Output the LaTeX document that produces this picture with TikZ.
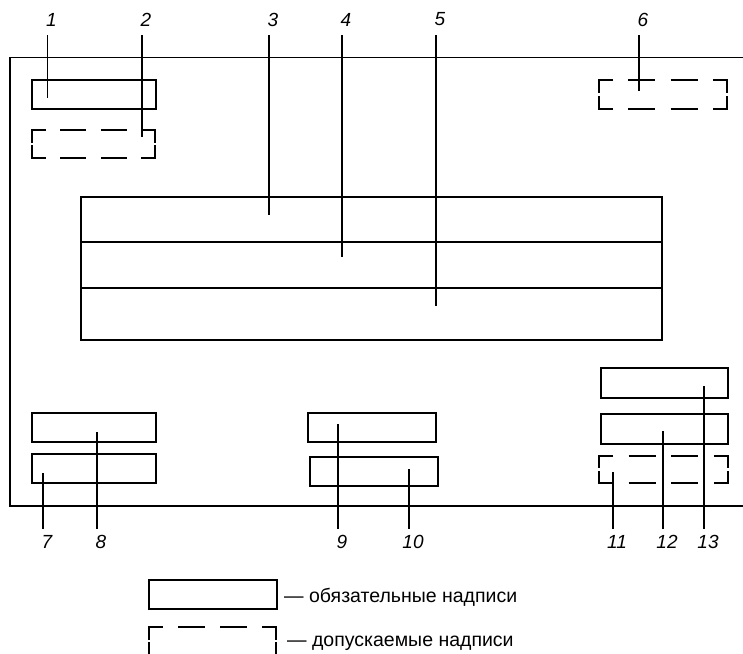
\documentclass[tikz,border=0pt]{standalone}
\usepackage{fontspec}
\setmainfont{Liberation Sans}
\usetikzlibrary{calc}
\newcommand\optbox[1]{%
  \draw[optline] ($(#1.north west)!0.11!(#1.north east)$) -- (#1.north west) -- ($(#1.north west)!0.46!(#1.south west)$);
  \draw[optline] ($(#1.north east)!0.11!(#1.north west)$) -- (#1.north east) -- ($(#1.north east)!0.46!(#1.south east)$);
  \draw[optline] ($(#1.south west)!0.11!(#1.south east)$) -- (#1.south west) -- ($(#1.south west)!0.46!(#1.north west)$);
  \draw[optline] ($(#1.south east)!0.11!(#1.south west)$) -- (#1.south east) -- ($(#1.south east)!0.46!(#1.north east)$);
  \foreach \a/\b in {0.23/0.44,0.56/0.77}{
    \draw[optline] ($(#1.north west)!\a!(#1.north east)$) -- ($(#1.north west)!\b!(#1.north east)$);
    \draw[optline] ($(#1.south west)!\a!(#1.south east)$) -- ($(#1.south west)!\b!(#1.south east)$);
  }%
}
\begin{document}
\begin{tikzpicture}[x=1pt,y=-1pt,
  frame/.style={line width=1.2pt},
  box/.style={draw, line width=1.2pt, inner sep=0pt, outer sep=0pt, anchor=north west},
  optarea/.style={inner sep=0pt, outer sep=0pt, anchor=north west},
  optline/.style={line width=2.4pt},
  leader/.style={line width=1.2pt},
  num/.style={font=\fontsize{19}{19}\selectfont\itshape, inner sep=0pt},
  legend/.style={font=\fontsize{19.5}{19.5}\selectfont, inner sep=0pt, anchor=west}]
\useasboundingbox (0,0) rectangle (743,653);

% outer frame
\draw[frame] (743,57.5) -- (10,57.5) -- (10,506) -- (743,506);

% top boxes
\node[box, minimum width=124pt, minimum height=29pt] (b1) at (32,80) {};
\node[optarea, minimum width=123pt, minimum height=28pt] (b2) at (32,130) {};
\optbox{b2}
\node[optarea, minimum width=128pt, minimum height=29pt] (b6) at (599,80) {};
\optbox{b6}

% central block
\node[box, minimum width=581pt, minimum height=45pt] (b3) at (81,197) {};
\node[box, minimum width=581pt, minimum height=46pt] (b4) at (81,242) {};
\node[box, minimum width=581pt, minimum height=52pt] (b5) at (81,288) {};

% bottom boxes
\node[box, minimum width=124pt, minimum height=29pt] (b8) at (32,413) {};
\node[box, minimum width=124pt, minimum height=29pt] (b7) at (32,454) {};
\node[box, minimum width=128pt, minimum height=29pt] (b9) at (308,413) {};
\node[box, minimum width=128pt, minimum height=29pt] (b10) at (310,457) {};
\node[box, minimum width=127pt, minimum height=30pt] (b13) at (601,368) {};
\node[box, minimum width=127pt, minimum height=30pt] (b12) at (601,414) {};
\node[optarea, minimum width=129pt, minimum height=27pt] (b11) at (599,456) {};
\optbox{b11}

% leader coordinates (top)
\coordinate (t1) at (47.5,35);  \coordinate (e1) at (47.5,98);
\coordinate (t2) at (142,35);   \coordinate (e2) at (142,137);
\coordinate (t3) at (269,35);   \coordinate (e3) at (269,215);
\coordinate (t4) at (342,35);   \coordinate (e4) at (342,257);
\coordinate (t5) at (436,35);   \coordinate (e5) at (436,306);
\coordinate (t6) at (639,35);   \coordinate (e6) at (639,91);
% leader coordinates (bottom)
\coordinate (s7) at (43,473);   \coordinate (e7) at (43,529);
\coordinate (s8) at (97,432);   \coordinate (e8) at (97,529);
\coordinate (s9) at (338,424);  \coordinate (e9) at (338,529);
\coordinate (s10) at (409,469); \coordinate (e10) at (409,529);
\coordinate (s11) at (613,472); \coordinate (e11) at (613,529);
\coordinate (s12) at (663,431); \coordinate (e12) at (663,529);
\coordinate (s13) at (704,386); \coordinate (e13) at (704,529);

\foreach \i in {1,...,6}{
  \draw[leader] (t\i) -- (e\i);
  \node[num] (n\i) at ($(t\i)+(4,-15.5)$) {\i};
}
\foreach \i in {7,...,13}{
  \draw[leader] (s\i) -- (e\i);
  \node[num] (n\i) at ($(e\i)+(4,12.5)$) {\i};
}

% legend
\node[box, minimum width=128pt, minimum height=29pt] (lg1) at (149,580) {};
\node[optarea, minimum width=127pt, minimum height=28pt] (lg2) at (149,627) {};
\optbox{lg2}
\node[legend] (lt1) at (284,597) {— обязательные надписи};
\node[legend] (lt2) at (287,643) {— допускаемые надписи};
\end{tikzpicture}
\end{document}
